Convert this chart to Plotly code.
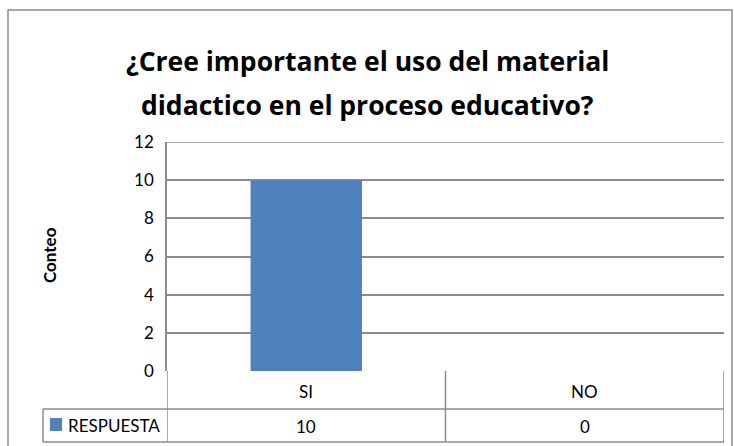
import plotly.graph_objects as go

# datos
categorias = ["SI", "NO"]
respuesta = [10, 0]
serie = "RESPUESTA"
titulo = ["¿Cree importante el uso del material",
          "didactico en el proceso educativo?"]
eje_y = "Conteo"
y_ticks = [0, 2, 4, 6, 8, 10, 12]

W, H = 734, 446
ML, MR, MT, MB = 167, 10, 142, 75
PW = W - ML - MR
PH = H - MT - MB

def px_y(yp):
    # pixel vertical -> coordenada paper
    return (H - MB - yp) / PH

def px_x(xp):
    return (xp - ML) / PW

gris = "#8c8c8c"
azul = "#4F81BD"
fuente = "Lato"
txt = dict(family=fuente, size=17, color="#000")

fig = go.Figure()
fig.add_trace(go.Bar(
    x=categorias,
    y=respuesta,
    name=serie,
    marker_color=azul,
    marker_line_width=0,
))

shapes = []
# borde exterior
shapes.append(dict(type="rect", xref="paper", yref="paper",
                   x0=px_x(8), x1=px_x(732), y0=px_y(450), y1=px_y(10),
                   line=dict(color=gris, width=1.5)))
# tabla de datos
y_head = px_y(409)
y_bot = px_y(442)
for xc in [-0.5, 0.5, 1.5]:
    shapes.append(dict(type="line", xref="x", yref="paper",
                       x0=xc, x1=xc, y0=0, y1=y_bot,
                       line=dict(color=gris, width=1.5)))
for yy in [y_head, y_bot]:
    shapes.append(dict(type="line", xref="paper", yref="paper",
                       x0=px_x(43), x1=1, y0=yy, y1=yy,
                       line=dict(color=gris, width=1.5)))
shapes.append(dict(type="line", xref="paper", yref="paper",
                   x0=px_x(43), x1=px_x(43), y0=y_head, y1=y_bot,
                   line=dict(color=gris, width=1.5)))
# cuadrito de leyenda
shapes.append(dict(type="rect", xref="paper", yref="paper",
                   x0=px_x(50), x1=px_x(62), y0=px_y(431), y1=px_y(418),
                   fillcolor=azul, line=dict(width=0)))

annotations = []
for c, v in zip(categorias, respuesta):
    annotations.append(dict(x=c, xref="x", y=px_y(391), yref="paper",
                            text=c, showarrow=False, yanchor="middle",
                            font=txt))
    annotations.append(dict(x=c, xref="x", y=px_y(426), yref="paper",
                            text=str(v), showarrow=False, yanchor="middle",
                            font=txt))
annotations.append(dict(x=px_x(66), xref="paper", y=px_y(425), yref="paper",
                        text=serie, showarrow=False, xanchor="left",
                        yanchor="middle", font=txt))
annotations.append(dict(x=px_x(49), xref="paper", y=px_y(255), yref="paper",
                        text="<b>" + eje_y + "</b>", showarrow=False,
                        textangle=-90, xanchor="center", yanchor="middle",
                        font=dict(family=fuente, size=17, color="#000")))
# titulo en dos lineas
for linea, yc in zip(titulo, [61, 105]):
    annotations.append(dict(x=px_x(367), xref="paper", y=px_y(yc),
                            yref="paper", text=linea, showarrow=False,
                            xanchor="center", yanchor="middle",
                            font=dict(family="Open Sans", size=26.5,
                                      color="#000", weight=700)))

fig.update_layout(
    width=W, height=H,
    margin=dict(l=ML, r=MR, t=MT, b=MB),
    paper_bgcolor="white", plot_bgcolor="white",
    showlegend=False,
    bargap=0.6,
    xaxis=dict(showticklabels=False, showgrid=False, zeroline=False,
               showline=False, range=[-0.5, 1.5]),
    yaxis=dict(range=[0, 12], tickvals=y_ticks, showgrid=True,
               gridcolor=gris, gridwidth=1.5, zeroline=False,
               showline=True, linecolor=gris, linewidth=1.5,
               ticks="", ticklabelstandoff=8,
               tickfont=txt),
    shapes=shapes,
    annotations=annotations,
)
# linea superior del area de trazado
fig.add_shape(type="line", xref="paper", yref="y", x0=0, x1=1, y0=12, y1=12,
              line=dict(color=gris, width=1.5))

fig.write_html("out.html", config={"displayModeBar": False},
               post_script="document.body.style.margin='0';")
